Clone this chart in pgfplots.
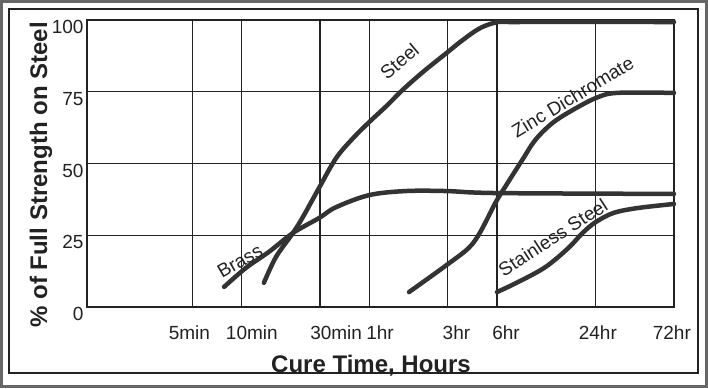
\documentclass[border=0pt]{standalone}
\usepackage{fontspec}
\setmainfont{Liberation Sans}
\usepackage{pgfplots}
\pgfplotsset{compat=1.18}
\definecolor{ink}{HTML}{222222}
\definecolor{curve}{HTML}{333333}
\newcommand{\tickfont}{\fontsize{19pt}{22pt}\selectfont}
\newcommand{\titlefont}{\fontsize{24pt}{28pt}\selectfont\bfseries}
\pgfplotsset{curvestyle/.style={color=curve, no markers, line width=4.5pt, smooth, tension=0.55, line cap=round, line join=round}}
\begin{document}
\begin{tikzpicture}[x=1pt,y=1pt]
\useasboundingbox (0,0) rectangle (708,388);
\fill[white] (0,0) rectangle (708,388);
\draw[color=black!60, line width=2.6pt] (1.3,1.3) rectangle (706.7,386.7);
\draw[color=ink, line width=1.3pt] (9,15) rectangle (698,379);
\begin{axis}[
  at={(87pt,81pt)}, anchor=south west,
  scale only axis, width=587pt, height=287pt,
  xmode=log, xmin=0.01897, xmax=72,
  ymin=0, ymax=100,
  clip=false,
  axis line style={color=ink, line width=1.4pt},
  xtick={0.07990,0.1919,0.6268,1.162,3.395,6.813,24.72,69.84},
  xticklabels={5min,10min,30min,1hr,3hr,6hr,24hr,72hr},
  extra x ticks={0.0833333,0.1666667,0.5,1,3,6,24},
  extra x tick labels={},
  extra x tick style={grid=major, major tick length=0pt},
  xmajorgrids=false,
  ytick={0,25,50,75,100},
  ymajorgrids=true,
  major grid style={color=ink, line width=1.4pt},
  major tick length=0pt, minor tick length=0pt,
  minor x tick num=0,
  xminorgrids=false,
  tick label style={font=\tickfont, text=ink},
  /pgf/number format/assume math mode=true,
  xticklabel style={yshift=-15pt},
  yticklabel style={yshift=-7pt},
  xlabel={Cure Time, Hours},
  xlabel style={font=\titlefont, text=ink, at={(axis description cs:0.4838,-0.2265)}, anchor=base},
  ylabel={\% of Full Strength on Steel},
  ylabel style={font=\titlefont, text=ink, at={(axis description cs:-0.0681,0.46)}, anchor=base},
]
% Steel
\addplot[curvestyle] coordinates {(0.2272,8.4) (0.2692,17.4) (0.3420,25.8) (0.3936,31.4) (0.4932,41.5) (0.6268,51.9) (0.7974,58.9) (1.0,64.5) (1.291,70.4) (1.571,75.3) (2.122,81.9) (2.954,88.5) (3.702,93.0) (4.742,97.2) (6.0,99.2) (7.737,99.3) (72,99.3)};
% Brass
\addplot[curvestyle] coordinates {(0.130,7.0) (0.1764,13.6) (0.2438,19.2) (0.3420,25.8) (0.4932,31.0) (0.6268,34.8) (1.0,39.0) (1.668,40.4) (2.954,40.4) (6.0,39.7) (72,39.4)};
% Zinc Dichromate
\addplot[curvestyle] coordinates {(1.745,5.2) (2.954,14.6) (4.036,20.6) (4.742,26.1) (5.852,36.2) (6.716,41.8) (8.545,51.2) (10.27,58.2) (13.06,64.1) (17.33,68.6) (24,72.8) (32.28,74.6) (72,74.6)};
% Stainless Steel
\addplot[curvestyle] coordinates {(6.0,5.2) (8.07,8.7) (11.83,13.9) (16.37,20.6) (19.95,25.8) (24,29.6) (30.88,32.8) (43.43,34.5) (72,35.9)};
\node[font=\tickfont, text=ink, rotate=40] at (axis cs:1.524,85.7) {Steel};
\node[font=\tickfont, text=ink, rotate=31] at (axis cs:17.33,73.2) {Zinc Dichromate};
\node[font=\tickfont, text=ink, rotate=30] at (axis cs:0.1624,16.0) {Brass};
\node[font=\tickfont, text=ink, rotate=33] at (axis cs:13.15,24.2) {Stainless Steel};
\end{axis}
\end{tikzpicture}
\end{document}
